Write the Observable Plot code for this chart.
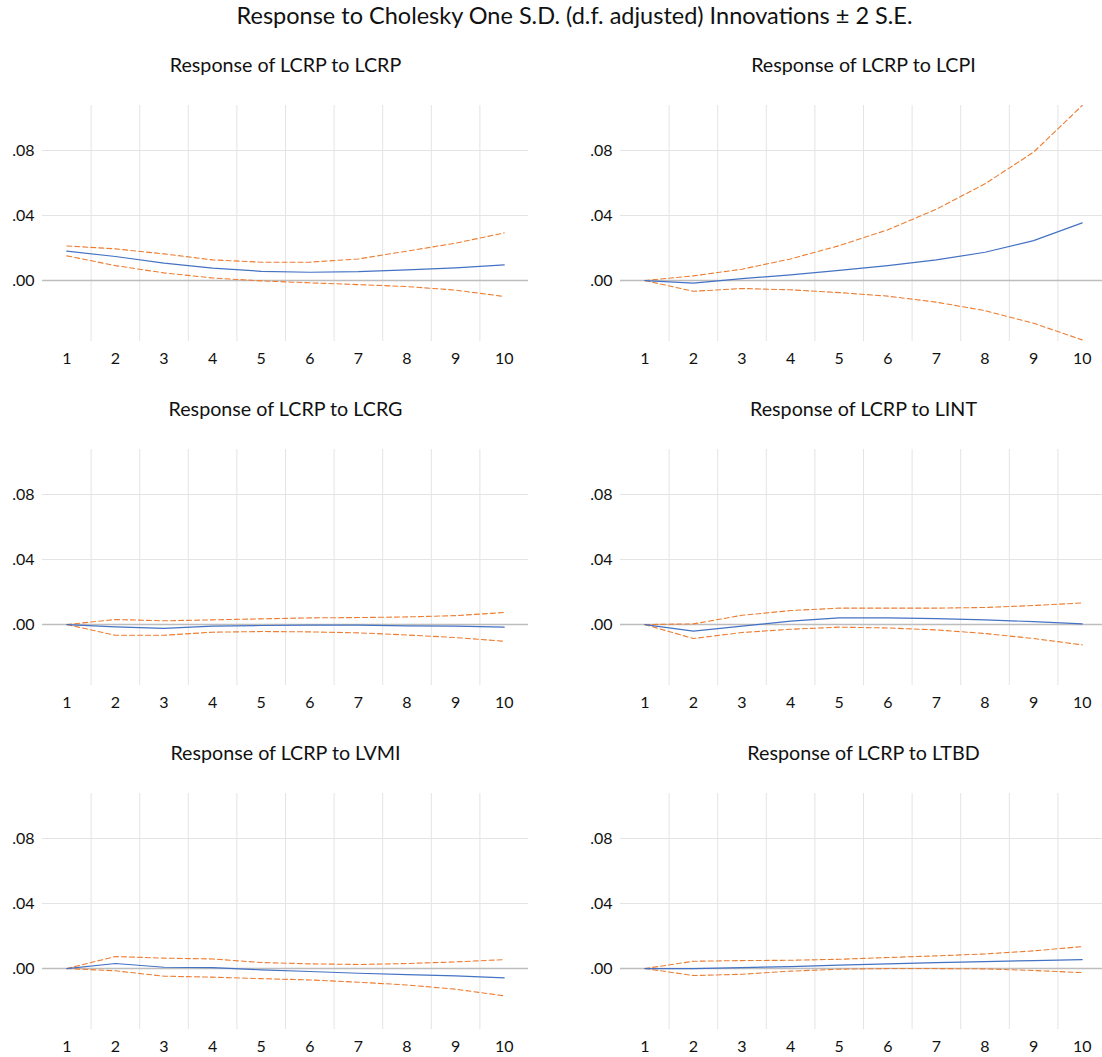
<!DOCTYPE html>
<html>
<head>
<meta charset="utf-8">
<script src="https://cdn.jsdelivr.net/npm/d3@7"></script>
<script src="https://cdn.jsdelivr.net/npm/@observablehq/plot@0.6"></script>
<style>
  html, body { margin: 0; padding: 0; background: #fff; overflow: hidden; }
  #root { position: relative; width: 1102px; height: 1057px; overflow: hidden; font-family: Lato, "Open Sans", sans-serif; }
  #main-title { position: absolute; left: 42px; width: 1065px; top: 2px; line-height: 26px; text-align: center; font-size: 23.5px; color: #111; white-space: nowrap; }
  .panel { position: absolute; }
</style>
</head>
<body>
<div id="root">
  <div id="main-title">Response to Cholesky One S.D. (d.f. adjusted) Innovations ± 2 S.E.</div>
</div>
<script>
// ---- Data ----
const periods = [1, 2, 3, 4, 5, 6, 7, 8, 9, 10];
const xTickLabels = ["1", "2", "3", "4", "5", "6", "7", "8", "9", "10"];
const yTicks = [0, 0.04, 0.08];

const panelTitles = [
  "Response of LCRP to LCRP", "Response of LCRP to LCPI",
  "Response of LCRP to LCRG", "Response of LCRP to LINT",
  "Response of LCRP to LVMI", "Response of LCRP to LTBD"
];

// Response of LCRP to LCRP
const lcrpResp  = [0.0181, 0.0148, 0.0107, 0.0076, 0.0057, 0.0051, 0.0055, 0.0066, 0.0078, 0.0096];
const lcrpUpper = [0.0213, 0.0195, 0.0164, 0.0127, 0.0113, 0.0113, 0.0133, 0.0181, 0.0230, 0.0293];
const lcrpLower = [0.0152, 0.0092, 0.0047, 0.0016, -0.0002, -0.0014, -0.0025, -0.0037, -0.0059, -0.0098];

// Response of LCRP to LCPI
const lcpiResp  = [0, -0.0016, 0.0012, 0.0035, 0.0062, 0.0092, 0.0127, 0.0174, 0.0246, 0.0355];
const lcpiUpper = [0, 0.0029, 0.0070, 0.0133, 0.0215, 0.0312, 0.0439, 0.0595, 0.0790, 0.1077];
const lcpiLower = [0, -0.0066, -0.0049, -0.0057, -0.0074, -0.0096, -0.0133, -0.0185, -0.0263, -0.0365];

// Response of LCRP to LCRG
const lcrgResp  = [0, -0.0014, -0.0023, -0.0010, -0.0006, -0.0004, -0.0004, -0.0008, -0.0010, -0.0016];
const lcrgUpper = [0, 0.0031, 0.0023, 0.0029, 0.0035, 0.0041, 0.0043, 0.0047, 0.0055, 0.0074];
const lcrgLower = [0, -0.0066, -0.0066, -0.0047, -0.0043, -0.0045, -0.0051, -0.0064, -0.0080, -0.0103];

// Response of LCRP to LINT
const lintResp  = [0, -0.0041, -0.0010, 0.0021, 0.0041, 0.0041, 0.0037, 0.0029, 0.0018, 0.0004];
const lintUpper = [0, 0.0004, 0.0057, 0.0086, 0.0101, 0.0101, 0.0101, 0.0105, 0.0117, 0.0133];
const lintLower = [0, -0.0086, -0.0049, -0.0029, -0.0016, -0.0021, -0.0033, -0.0055, -0.0086, -0.0125];

// Response of LCRP to LVMI
const lvmiResp  = [0, 0.0031, 0.0008, 0.0006, -0.0008, -0.0018, -0.0029, -0.0037, -0.0045, -0.0057];
const lvmiUpper = [0, 0.0074, 0.0064, 0.0059, 0.0037, 0.0029, 0.0025, 0.0031, 0.0041, 0.0055];
const lvmiLower = [0, -0.0014, -0.0047, -0.0053, -0.0062, -0.0070, -0.0084, -0.0101, -0.0127, -0.0168];

// Response of LCRP to LTBD
const ltbdResp  = [0, 0, 0.0006, 0.0012, 0.0021, 0.0029, 0.0037, 0.0043, 0.0049, 0.0055];
const ltbdUpper = [0, 0.0045, 0.0049, 0.0051, 0.0057, 0.0068, 0.0078, 0.0090, 0.0109, 0.0135];
const ltbdLower = [0, -0.0043, -0.0035, -0.0016, -0.0004, 0, 0, -0.0002, -0.0012, -0.0025];

// ---- Build panels ----
const series = [
  [lcrpResp, lcrpUpper, lcrpLower],
  [lcpiResp, lcpiUpper, lcpiLower],
  [lcrgResp, lcrgUpper, lcrgLower],
  [lintResp, lintUpper, lintLower],
  [lvmiResp, lvmiUpper, lvmiLower],
  [ltbdResp, ltbdUpper, ltbdLower]
];

const toRows = (vals) => periods.map((p, i) => ({period: p, value: vals[i]}));
const yFmt = (d) => d3.format(".2f")(d).replace(/^(-?)0\./, "$1.");
const xGrid = d3.range(1.5, 10, 1);

const root = document.getElementById("root");
const FONT = 'Lato, "Open Sans", sans-serif';

series.forEach(([resp, upper, lower], k) => {
  const col = k % 2, row = Math.floor(k / 2);
  const chart = Plot.plot({
    width: 551,
    height: 344,
    marginLeft: 42,
    marginRight: 23,
    marginTop: 65,
    marginBottom: 43,
    style: {fontFamily: FONT, fontSize: "16px", color: "#111", background: "transparent", overflow: "visible"},
    x: {domain: [0.5, 10.5], ticks: periods, tickFormat: (d) => xTickLabels[periods.indexOf(d)], tickSize: 0, tickPadding: 11, label: null},
    y: {domain: [-0.0375, 0.1077], ticks: yTicks, tickFormat: yFmt, tickSize: 0, tickPadding: 8, label: null},
    marks: [
      Plot.ruleX(xGrid, {stroke: "#e4e4e4", strokeWidth: 1}),
      Plot.ruleY(yTicks.filter(d => d !== 0), {stroke: "#e4e4e4", strokeWidth: 1}),
      Plot.ruleY([0], {stroke: "#bdbdbd", strokeWidth: 1.5}),
      Plot.line(toRows(upper), {x: "period", y: "value", stroke: "#ed7d31", strokeWidth: 1.1, strokeDasharray: "5,3"}),
      Plot.line(toRows(lower), {x: "period", y: "value", stroke: "#ed7d31", strokeWidth: 1.1, strokeDasharray: "5,3"}),
      Plot.line(toRows(resp), {x: "period", y: "value", stroke: "#4472c4", strokeWidth: 1.2}),
      Plot.text([panelTitles[k]], {frameAnchor: "top", lineAnchor: "middle", dy: -40, fontSize: 19.7, fill: "#111"})
    ]
  });
  chart.classList.add("panel");
  chart.style.left = (col * 578) + "px";
  chart.style.top = (40 + row * 344) + "px";
  root.appendChild(chart);
});
</script>
</body>
</html>
